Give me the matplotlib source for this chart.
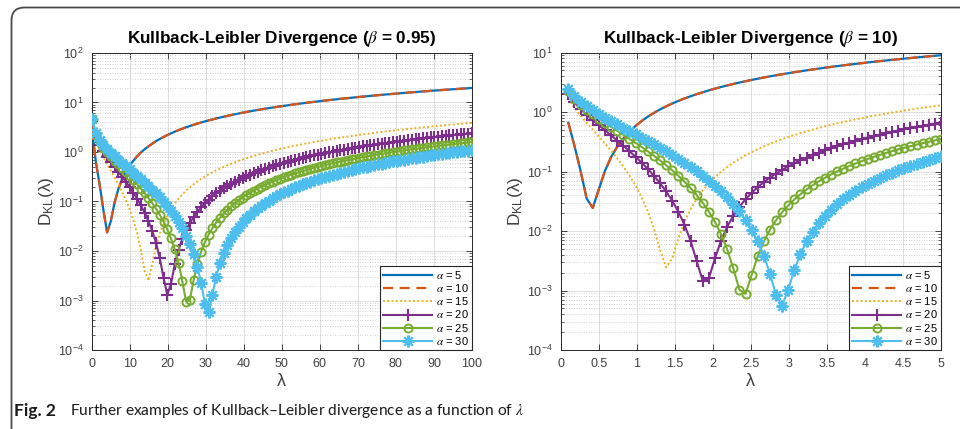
import numpy as np
import matplotlib
matplotlib.use('Agg')
import matplotlib.pyplot as plt
from matplotlib.patches import FancyBboxPatch
from matplotlib.transforms import IdentityTransform
from matplotlib.ticker import FixedLocator, LogLocator, NullFormatter, FuncFormatter

plt.rcParams['font.family'] = ['Liberation Sans', 'DejaVu Sans']
plt.rcParams['mathtext.fontset'] = 'stix'

# ---------------- data ----------------
lam_left = np.linspace(0.1, 100, 102)
lam_right = np.linspace(0.1, 5, 62)

alpha_labels = ['5', '10', '15', '20', '25', '30']

alpha5_left = [
    2.79, 0.634, 0.223, 0.068, 0.0237, 0.0404, 0.096, 0.179, 0.283, 0.40,
    0.53, 0.67, 0.82, 0.98, 1.14, 1.30, 1.47, 1.65, 1.83, 2.01,
    2.19, 2.38, 2.57, 2.76, 2.95, 3.15, 3.34, 3.54, 3.74, 3.94,
    4.14, 4.34, 4.54, 4.75, 4.95, 5.16, 5.36, 5.57, 5.78, 5.99,
    6.20, 6.41, 6.62, 6.83, 7.05, 7.26, 7.47, 7.68, 7.90, 8.11,
    8.33, 8.54, 8.76, 8.97, 9.19, 9.41, 9.62, 9.84, 10.06, 10.27,
    10.49, 10.71, 10.93, 11.15, 11.37, 11.59, 11.81, 12.03, 12.25, 12.47,
    12.69, 12.91, 13.13, 13.35, 13.57, 13.79, 14.02, 14.24, 14.46, 14.68,
    14.90, 15.13, 15.35, 15.57, 15.80, 16.02, 16.24, 16.47, 16.69, 16.91,
    17.14, 17.36, 17.58, 17.81, 18.03, 18.26, 18.48, 18.71, 18.93, 19.16,
    19.38, 19.61]
alpha10_left = list(alpha5_left)
alpha15_left = [
    4.00, 1.68, 1.10, 0.780, 0.568, 0.417, 0.305, 0.220, 0.1555, 0.106,
    0.069, 0.0417, 0.0226, 0.0103, 0.0039, 0.0025, 0.0055, 0.0123, 0.0226, 0.0359,
    0.052, 0.0706, 0.0915, 0.114, 0.139, 0.166, 0.193, 0.223, 0.254, 0.286,
    0.319, 0.354, 0.389, 0.426, 0.463, 0.501, 0.540, 0.580, 0.620, 0.662,
    0.704, 0.746, 0.789, 0.833, 0.877, 0.922, 0.967, 1.012, 1.058, 1.105,
    1.152, 1.199, 1.247, 1.295, 1.344, 1.393, 1.441, 1.491, 1.541, 1.591,
    1.641, 1.692, 1.743, 1.794, 1.845, 1.897, 1.949, 2.001, 2.053, 2.106,
    2.158, 2.211, 2.265, 2.318, 2.372, 2.425, 2.479, 2.533, 2.587, 2.642,
    2.696, 2.751, 2.806, 2.861, 2.916, 2.971, 3.027, 3.083, 3.138, 3.194,
    3.250, 3.306, 3.362, 3.419, 3.475, 3.532, 3.588, 3.645, 3.702, 3.759,
    3.816, 3.873]
alpha20_left = [
    4.30, 1.97, 1.37, 1.03, 0.800, 0.631, 0.501, 0.399, 0.317, 0.250,
    0.195, 0.150, 0.113, 0.0832, 0.0591, 0.0400, 0.0255, 0.0146, 0.0072, 0.0029,
    0.0013, 0.0022, 0.0054, 0.0106, 0.0177, 0.0265, 0.0368, 0.0486, 0.0619, 0.0764,
    0.0920, 0.109, 0.127, 0.145, 0.165, 0.186, 0.207, 0.229, 0.252, 0.275,
    0.300, 0.325, 0.350, 0.376, 0.403, 0.430, 0.457, 0.485, 0.513, 0.542,
    0.572, 0.601, 0.631, 0.662, 0.693, 0.724, 0.755, 0.787, 0.819, 0.851,
    0.884, 0.917, 0.950, 0.984, 1.018, 1.052, 1.085, 1.120, 1.155, 1.190,
    1.225, 1.260, 1.296, 1.331, 1.367, 1.403, 1.439, 1.476, 1.512, 1.549,
    1.586, 1.623, 1.660, 1.697, 1.735, 1.773, 1.810, 1.848, 1.887, 1.925,
    1.963, 2.002, 2.040, 2.079, 2.118, 2.157, 2.195, 2.234, 2.274, 2.313,
    2.352, 2.392]
alpha25_left = [
    4.54, 2.19, 1.58, 1.23, 0.991, 0.811, 0.672, 0.559, 0.466, 0.389,
    0.324, 0.269, 0.2215, 0.181, 0.147, 0.1175, 0.0928, 0.0716, 0.0538, 0.0392,
    0.0273, 0.0179, 0.0108, 0.0057, 0.00245, 0.00095, 0.00103, 0.00258, 0.0055, 0.0097,
    0.0150, 0.0215, 0.0290, 0.0375, 0.0469, 0.0572, 0.0681, 0.0800, 0.0925, 0.1058,
    0.1197, 0.1342, 0.1493, 0.165, 0.181, 0.198, 0.215, 0.233, 0.251, 0.2695,
    0.2885, 0.308, 0.328, 0.348, 0.368, 0.389, 0.410, 0.432, 0.4535, 0.4756,
    0.498, 0.5207, 0.5436, 0.5668, 0.5903, 0.614, 0.6376, 0.6618, 0.6862, 0.7108,
    0.7356, 0.7606, 0.7858, 0.8112, 0.8368, 0.8625, 0.8885, 0.9146, 0.9406, 0.9671,
    0.9937, 1.0204, 1.0474, 1.0744, 1.1016, 1.129, 1.1565, 1.1841, 1.2119, 1.2398,
    1.2678, 1.2959, 1.3242, 1.3526, 1.3811, 1.4097, 1.4381, 1.4669, 1.4959, 1.5249,
    1.554, 1.583]
alpha30_left = [
    4.72, 2.37, 1.76, 1.40, 1.15, 0.966, 0.819, 0.700, 0.601, 0.517,
    0.445, 0.383, 0.329, 0.282, 0.241, 0.2045, 0.173, 0.1453, 0.1208, 0.0993,
    0.0806, 0.0646, 0.0506, 0.0387, 0.0287, 0.0205, 0.0139, 0.0087, 0.00485, 0.00227,
    0.00087, 0.00058, 0.00132, 0.00304, 0.00567, 0.00917, 0.0135, 0.0186, 0.0244, 0.0309,
    0.0380, 0.0458, 0.0542, 0.0631, 0.0726, 0.0826, 0.0929, 0.1039, 0.1153, 0.1271,
    0.1394, 0.1520, 0.1651, 0.1785, 0.1922, 0.2063, 0.2206, 0.2353, 0.2504, 0.2657,
    0.2814, 0.2973, 0.3135, 0.3299, 0.3466, 0.3635, 0.3805, 0.3979, 0.4156, 0.4334,
    0.4515, 0.4697, 0.4882, 0.5068, 0.5256, 0.5446, 0.5638, 0.5832, 0.6025, 0.6222,
    0.6421, 0.6621, 0.6823, 0.7026, 0.7231, 0.7437, 0.7644, 0.7853, 0.8063, 0.8274,
    0.8487, 0.8700, 0.8916, 0.9132, 0.9349, 0.9568, 0.9785, 1.0006, 1.0227, 1.0450,
    1.0674, 1.0899]

alpha5_right = [
    0.659, 0.2706, 0.1028, 0.0351, 0.0244, 0.0507, 0.103, 0.1745, 0.2608, 0.359,
    0.467, 0.582, 0.705, 0.833, 0.966, 1.103, 1.244, 1.388, 1.536, 1.686,
    1.839, 1.993, 2.150, 2.309, 2.469, 2.631, 2.795, 2.960, 3.126, 3.293,
    3.461, 3.630, 3.801, 3.972, 4.144, 4.317, 4.490, 4.665, 4.840, 5.015,
    5.192, 5.368, 5.546, 5.724, 5.902, 6.081, 6.261, 6.441, 6.621, 6.802,
    6.983, 7.164, 7.346, 7.528, 7.711, 7.894, 8.077, 8.260, 8.444, 8.628,
    8.813, 8.997]
alpha10_right = list(alpha5_right)
alpha15_right = [
    1.713, 1.181, 0.870, 0.658, 0.504, 0.387, 0.296, 0.224, 0.1668, 0.1216,
    0.0858, 0.0580, 0.0369, 0.0214, 0.0110, 0.0048, 0.00246, 0.00346, 0.0075, 0.0142,
    0.0234, 0.0347, 0.0481, 0.0634, 0.0804, 0.0989, 0.1189, 0.1402, 0.1628, 0.1865,
    0.2114, 0.2373, 0.2641, 0.2918, 0.3204, 0.3498, 0.380, 0.4109, 0.4425, 0.4747,
    0.5075, 0.5409, 0.5749, 0.6094, 0.6444, 0.680, 0.716, 0.7524, 0.7892, 0.8265,
    0.8642, 0.9022, 0.9406, 0.9794, 1.0185, 1.0579, 1.0977, 1.1378, 1.1781, 1.2187,
    1.2597, 1.3009]
alpha20_right = [
    1.998, 1.451, 1.125, 0.899, 0.729, 0.597, 0.491, 0.404, 0.332, 0.271,
    0.220, 0.177, 0.141, 0.1107, 0.0851, 0.0638, 0.0464, 0.0323, 0.0212, 0.0128,
    0.00686, 0.00314, 0.00145, 0.00161, 0.00347, 0.0069, 0.0118, 0.0180, 0.0255, 0.0342,
    0.0439, 0.0547, 0.0664, 0.0791, 0.0925, 0.1069, 0.1219, 0.1377, 0.1542, 0.1713,
    0.1890, 0.2073, 0.2262, 0.2456, 0.2656, 0.2860, 0.3069, 0.3282, 0.3499, 0.3721,
    0.3947, 0.4176, 0.4410, 0.4646, 0.4886, 0.5130, 0.5377, 0.5626, 0.5879, 0.6134,
    0.6392, 0.6653]
alpha25_right = [
    2.221, 1.665, 1.329, 1.094, 0.916, 0.775, 0.660, 0.564, 0.483, 0.414,
    0.354, 0.303, 0.258, 0.218, 0.184, 0.1538, 0.1276, 0.1047, 0.0848, 0.0676,
    0.0529, 0.0403, 0.0298, 0.0212, 0.0142, 0.00885, 0.00493, 0.00235, 0.00103, 0.000875,
    0.00182, 0.00378, 0.00671, 0.0105, 0.0152, 0.0207, 0.0270, 0.0340, 0.0416, 0.0499,
    0.0589, 0.0684, 0.0784, 0.0890, 0.1001, 0.1118, 0.1238, 0.1364, 0.1493, 0.1627,
    0.1765, 0.1906, 0.2051, 0.2200, 0.2352, 0.2507, 0.2666, 0.2827, 0.2992, 0.3159,
    0.3329, 0.3502]
alpha30_right = [
    2.402, 1.841, 1.500, 1.259, 1.075, 0.928, 0.807, 0.706, 0.619, 0.544,
    0.478, 0.421, 0.370, 0.325, 0.285, 0.249, 0.217, 0.1885, 0.1628, 0.1398,
    0.1192, 0.1010, 0.0847, 0.0705, 0.0575, 0.0464, 0.0367, 0.0284, 0.0213, 0.0153,
    0.0105, 0.0067, 0.00386, 0.00192, 0.00084, 0.00056, 0.00104, 0.00224, 0.00413, 0.00667,
    0.0098, 0.0136, 0.0179, 0.0227, 0.0281, 0.0339, 0.0402, 0.0470, 0.0541, 0.0617,
    0.0697, 0.0781, 0.0868, 0.0959, 0.1054, 0.1151, 0.1252, 0.1356, 0.1463, 0.1572,
    0.1685, 0.1800]

left_ticks = [0, 10, 20, 30, 40, 50, 60, 70, 80, 90, 100]
right_ticks = [0, 0.5, 1, 1.5, 2, 2.5, 3, 3.5, 4, 4.5, 5]
right_ticklabels = ['0', '0.5', '1', '1.5', '2', '2.5', '3', '3.5', '4', '4.5', '5']

# ---------------- style ----------------
colors = ['#0072BD', '#D95319', '#EDB120', '#7E2F8E', '#77AC30', '#4DBEEE']
asterisk = (8, 2, 0)
styles = [
    dict(ls='-', lw=1.6),
    dict(ls=(0, (4.5, 3)), lw=1.6),
    dict(ls=(0, (1, 1.2)), lw=1.4),
    dict(ls='-', lw=1.5, marker='+', ms=8.5, mew=1.5),
    dict(ls='-', lw=1.5, marker='o', ms=5.8, mew=1.4, mfc='none'),
    dict(ls='-', lw=1.5, marker=asterisk, ms=8.5, mew=1.5),
]

fig = plt.figure(figsize=(9.6, 4.29), dpi=100)
axL = fig.add_axes([0.0955, 0.1841, 0.3961, 0.6925])
axR = fig.add_axes([0.5841, 0.1841, 0.3961, 0.6935])

tick_color = '#404040'


def logfmt(v, pos):
    e = int(round(np.log10(v)))
    return r'$\mathregular{10^{%d}}$' % e


def setup(ax, lam, series, ylim, xticks, xticklabels, xlim, title):
    for i, (vals, st) in enumerate(zip(series, styles)):
        ax.plot(lam, vals, color=colors[i], label=r'$\alpha$ = ' + alpha_labels[i],
                zorder=3 + i, **st)
    ax.set_yscale('log')
    ax.set_ylim(*ylim)
    ax.set_xlim(*xlim)
    ax.xaxis.set_major_locator(FixedLocator(xticks))
    ax.set_xticklabels(xticklabels)
    ax.yaxis.set_major_locator(LogLocator(base=10, numticks=20))
    ax.yaxis.set_minor_locator(LogLocator(base=10, subs=np.arange(2, 10), numticks=20))
    ax.yaxis.set_major_formatter(FuncFormatter(logfmt))
    ax.yaxis.set_minor_formatter(NullFormatter())
    ax.grid(True, which='major', color='#dedede', lw=0.7, ls='-', zorder=0)
    ax.grid(True, which='minor', axis='y', color='#c4c4c4', lw=0.6,
            ls=(0, (1, 2)), zorder=0)
    ax.set_axisbelow(True)
    for sp in ax.spines.values():
        sp.set_color('#262626')
        sp.set_linewidth(0.7)
    ax.tick_params(which='both', direction='in', top=True, right=True,
                   labelsize=9, colors='#262626', labelcolor=tick_color)
    ax.tick_params(which='major', length=4, width=0.6, pad=6)
    ax.tick_params(which='minor', length=2.2, width=0.5)
    ax.set_xlabel('λ', fontsize=13, color=tick_color, labelpad=2)
    ax.set_ylabel(r'D$_{\mathregular{KL}}$(λ)', fontsize=12.5, color=tick_color,
                  labelpad=1)
    ax.set_title(title, fontsize=12.3, fontweight='bold', pad=7)
    leg = ax.legend(loc='lower right', borderaxespad=0, fancybox=False,
                    edgecolor='#262626', framealpha=1, fontsize=8,
                    handlelength=4.4, numpoints=1, labelspacing=0.1,
                    borderpad=0.3, handletextpad=0.35)
    leg.get_frame().set_linewidth(0.8)
    leg.set_zorder(20)


setup(axL, lam_left,
      [alpha5_left, alpha10_left, alpha15_left, alpha20_left, alpha25_left, alpha30_left],
      (1e-4, 1e2), left_ticks, [str(t) for t in left_ticks], (0, 100),
      r'Kullback-Leibler Divergence ($\beta$ = 0.95)')
setup(axR, lam_right,
      [alpha5_right, alpha10_right, alpha15_right, alpha20_right, alpha25_right, alpha30_right],
      (1e-4, 1e1), right_ticks, right_ticklabels, (0, 5),
      r'Kullback-Leibler Divergence ($\beta$ = 10)')

# frame with rounded top-left corner
frame = FancyBboxPatch((11.5, -40), 1100, 461.5,
                       boxstyle='round,pad=0,rounding_size=13',
                       transform=IdentityTransform(), fill=False,
                       ec='#4a4a4a', lw=1.3)
fig.add_artist(frame)

# caption
fig.text(14 / 960, 1 - 411 / 429, 'Fig. 2', fontsize=12.5, fontweight='bold',
         family=['Lato', 'DejaVu Sans'], va='center', ha='left', color='#1a1a1a')
fig.text(70 / 960, 1 - 411 / 429,
         r'Further examples of Kullback–Leibler divergence as a function of $\lambda$',
         fontsize=11.2, family=['Lato', 'DejaVu Sans'], va='center', ha='left',
         color='#1a1a1a')

fig.savefig('out.png', dpi=100)
